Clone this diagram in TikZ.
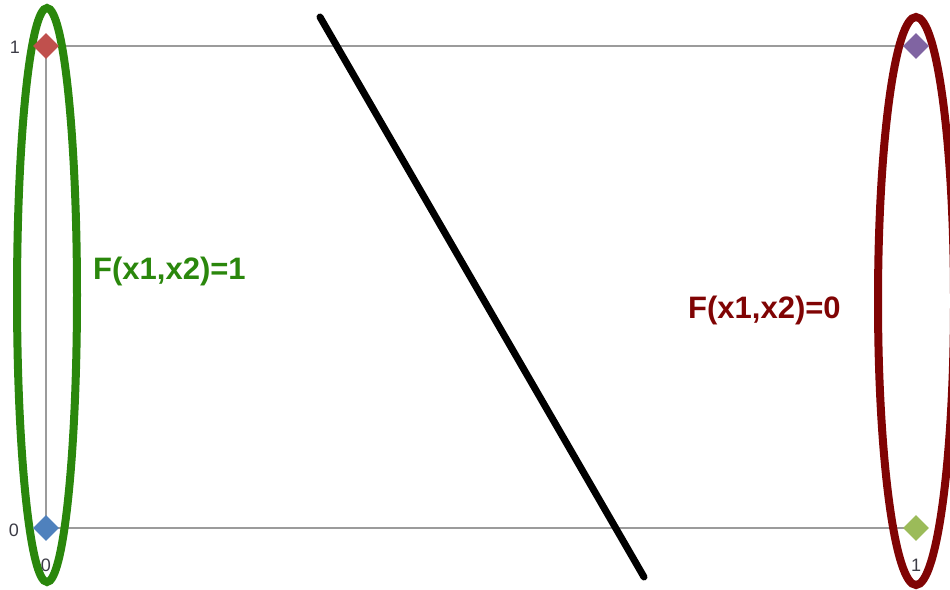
\documentclass[tikz,border=0pt]{standalone}
\usepackage{fontspec}
\setmainfont{Liberation Sans}
\usetikzlibrary{shapes.geometric}
\definecolor{setgreen}{RGB}{42,135,12}
\definecolor{setred}{RGB}{128,4,4}
\definecolor{ptred}{RGB}{192,80,77}
\definecolor{ptblue}{RGB}{79,129,189}
\definecolor{ptpurple}{RGB}{128,100,162}
\definecolor{ptgreen}{RGB}{155,187,89}
\definecolor{gridgray}{RGB}{155,155,155}
\definecolor{ticktext}{RGB}{60,60,70}
\tikzset{
  pt/.style={diamond, fill=#1, draw=none, inner sep=0pt, minimum width=26pt, minimum height=26pt},
  gridline/.style={draw=gridgray, line width=1.5pt},
  setring/.style={ellipse, draw=#1, line width=8pt, inner sep=0pt},
  ticklabel/.style={font=\fontsize{18}{18}\selectfont, text=ticktext, inner sep=0pt},
  setlabel/.style={font=\fontsize{31}{31}\selectfont\bfseries, text=#1, inner sep=0pt},
  sepline/.style={draw=black, line width=7pt, line cap=round}
}
\begin{document}
\begin{tikzpicture}[x=1pt,y=-1pt]
\useasboundingbox (0,0) rectangle (950,589);
% corner points
\coordinate (p01) at (46,46);
\coordinate (p00) at (46,528);
\coordinate (p11) at (916,46);
\coordinate (p10) at (916,528);
% grid
\draw[gridline] (p01) -- (p11);
\draw[gridline] (p00) -- (p10);
\draw[gridline] (p01) -- (p00);
% set rings
\node[setring=setgreen, minimum width=60pt, minimum height=574pt] (ringA) at (47,295) {};
\node[setring=setred, minimum width=76pt, minimum height=568pt] (ringB) at (916,301) {};
% points
\node[pt=ptred] (a) at (p01) {};
\node[pt=ptblue] (b) at (p00) {};
\node[pt=ptpurple] (c) at (p11) {};
\node[pt=ptgreen] (d) at (p10) {};
% tick labels
\node[ticklabel] (t1) at (15,47) {1};
\node[ticklabel] (t0) at (14,530) {0};
\node[ticklabel] (bx0) at (46,565) {0};
\node[ticklabel] (bx1) at (916,565) {1};
% separator
\coordinate (s1) at (320,17);
\coordinate (s2) at (644,577);
\draw[sepline] (s1) -- (s2);
% labels
\node[setlabel=setgreen, anchor=west] (fA) at (93,271) {F(x1,x2)=1};
\node[setlabel=setred, anchor=west] (fB) at (688,310) {F(x1,x2)=0};
\end{tikzpicture}
\end{document}
